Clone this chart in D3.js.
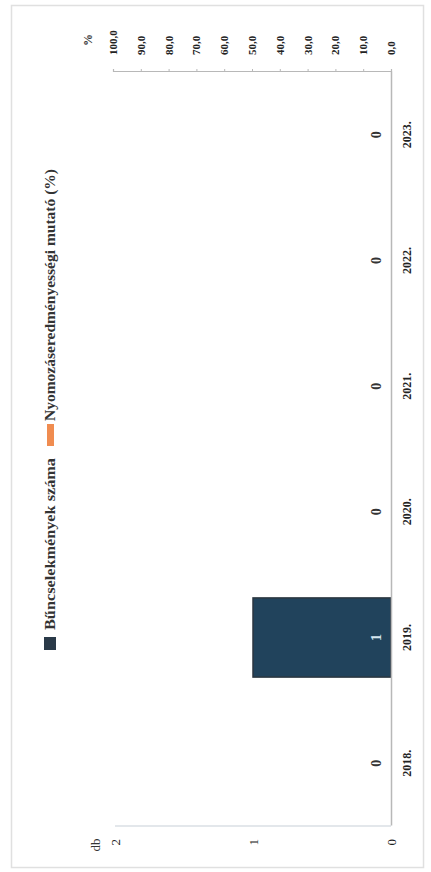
<!DOCTYPE html>
<html>
<head>
<meta charset="utf-8">
<script src="https://cdn.jsdelivr.net/npm/d3@7"></script>
<style>
  html,body{margin:0;padding:0;background:#fff;}
  svg{display:block;}
  text{font-family:"Liberation Serif","DejaVu Serif",serif;}
</style>
</head>
<body>
<script>
// ---- data ----
const categories = ["2018.", "2019.", "2020.", "2021.", "2022.", "2023."];
const crimeCounts = [0, 1, 0, 0, 0, 0];            // Bűncselekmények száma (db)
const clearanceRate = [null, null, null, null, null, null]; // Nyomozáseredményességi mutató (%)
const countTicks = [0, 1, 2];
const rateTicks = [0, 10, 20, 30, 40, 50, 60, 70, 80, 90, 100];
const seriesNames = ["Bűncselekmények száma", "Nyomozáseredményességi mutató (%)"];

const W = 431, H = 872;
const svg = d3.select("body").append("svg").attr("width", W).attr("height", H);

// outer frame
svg.append("rect").attr("x", 11.5).attr("y", 5.5).attr("width", 412).attr("height", 862)
  .attr("fill", "none").attr("stroke", "#e0e0e0").attr("stroke-width", 1.5);

// chart is drawn in a rotated frame: u = horizontal (screen up), v = vertical (screen right)
const g = svg.append("g").attr("transform", `translate(0,${H}) rotate(-90)`);

const uL = 46, uR = 800, vTop = 115, vBase = 391;
const x = d3.scaleBand().domain(categories).range([uL, uR]).paddingInner(0.37).paddingOuter(0.185);
const y = d3.scaleLinear().domain([0, 2]).range([vBase, vTop]);
const y2 = d3.scaleLinear().domain([0, 100]).range([vBase, 113]);

// value axis line
g.append("line").attr("x1", uL).attr("x2", uL).attr("y1", vTop).attr("y2", vBase)
  .attr("stroke", "#c8d0d8").attr("stroke-width", 1.2);

// bars
g.selectAll("rect.bar").data(categories).join("rect")
  .attr("class", "bar")
  .attr("x", d => x(d))
  .attr("width", x.bandwidth())
  .attr("y", (d, i) => y(crimeCounts[i]))
  .attr("height", (d, i) => vBase - y(crimeCounts[i]))
  .attr("fill", "#21435c").attr("stroke", "#2b3640").attr("stroke-width", 1.5);

// line series (no data points available)
const line = d3.line()
  .defined(d => d.v != null)
  .x(d => x(d.c) + x.bandwidth() / 2)
  .y(d => y2(d.v));
g.append("path")
  .datum(categories.map((c, i) => ({c, v: clearanceRate[i]})))
  .attr("d", line).attr("fill", "none").attr("stroke", "#f08c50").attr("stroke-width", 3);

// category axis (baseline)
const ax = g.append("g").attr("transform", `translate(0,${vBase})`)
  .call(d3.axisBottom(x).tickSize(0).tickPadding(11));
ax.select(".domain").attr("stroke", "#b8b8b8").attr("stroke-width", 1.5);
ax.selectAll("text").attr("font-size", 12).attr("font-weight", "bold").attr("fill", "#222")
  .attr("font-family", "'Liberation Serif',serif");

// left value axis
const ay = g.append("g").attr("transform", `translate(${uL},0)`)
  .call(d3.axisLeft(y).tickValues(countTicks).tickFormat(d3.format("d")).tickSize(0).tickPadding(13));
ay.select(".domain").remove();
ay.selectAll("text").attr("font-size", 13).attr("fill", "#222")
  .attr("font-family", "'Liberation Sans',sans-serif");
g.append("text").attr("x", 27).attr("y", 95).attr("text-anchor", "middle").attr("dy", "0.35em")
  .attr("font-size", 13).attr("fill", "#333").text("db");

// right % axis
const ay2 = g.append("g").attr("transform", `translate(${uR},0)`)
  .call(d3.axisRight(y2).tickValues(rateTicks)
    .tickFormat(d => d.toFixed(1).replace(".", ",")).tickSize(3).tickPadding(14));
ay2.select(".domain").attr("stroke", "#b8b8b8").attr("stroke-width", 1.2);
ay2.selectAll(".tick line").attr("stroke", "#b8b8b8");
ay2.selectAll("text").attr("font-size", 11).attr("font-weight", "bold").attr("fill", "#222");
g.append("text").attr("x", 832).attr("y", 88).attr("text-anchor", "middle").attr("dy", "0.35em")
  .attr("font-size", 12).attr("font-weight", "bold").attr("fill", "#333").text("%");

// value labels
g.selectAll("text.val").data(categories).join("text")
  .attr("class", "val")
  .attr("x", d => x(d) + x.bandwidth() / 2)
  .attr("y", 376).attr("dy", "0.35em").attr("text-anchor", "middle")
  .attr("font-size", 14).attr("font-weight", "bold")
  .attr("fill", (d, i) => crimeCounts[i] > 0 ? "#d6e6ef" : "#333")
  .text((d, i) => crimeCounts[i]);

// legend
const lg = g.append("g");
lg.append("rect").attr("x", 872 - 650).attr("y", 44).attr("width", 13).attr("height", 12).attr("fill", "#2a3a48");
lg.append("text").attr("x", 872 - 630).attr("y", 50.5).attr("dy", "0.35em")
  .attr("font-size", 14).attr("font-weight", "bold").attr("fill", "#333")
  .attr("textLength", 172).attr("lengthAdjust", "spacingAndGlyphs").text(seriesNames[0]);
lg.append("line").attr("x1", 872 - 446).attr("x2", 872 - 424).attr("y1", 50.5).attr("y2", 50.5)
  .attr("stroke", "#f08c50").attr("stroke-width", 7);
lg.append("text").attr("x", 872 - 421).attr("y", 50.5).attr("dy", "0.35em")
  .attr("font-size", 14).attr("font-weight", "bold").attr("fill", "#333")
  .attr("textLength", 252).attr("lengthAdjust", "spacingAndGlyphs").text(seriesNames[1]);
</script>
</body>
</html>
